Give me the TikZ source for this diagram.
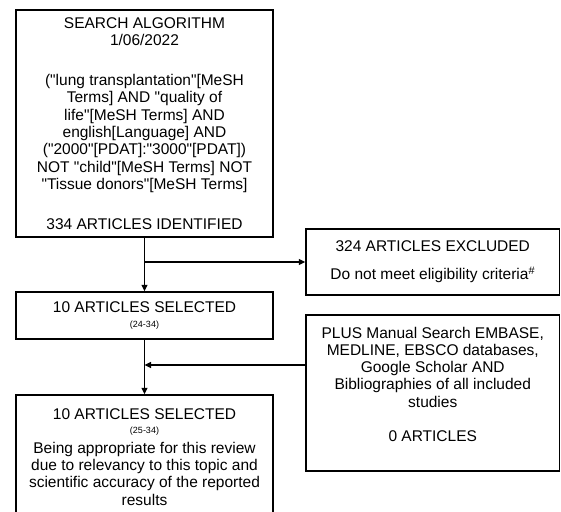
\documentclass[tikz,border=0pt]{standalone}
\usepackage{fontspec}
\setmainfont{Liberation Sans}
\usetikzlibrary{arrows.meta}
\newcommand{\smallref}[1]{{\fontsize{9}{9}\selectfont #1}}
\newcommand{\dq}{\textquotedbl}
\begin{document}
\begin{tikzpicture}[x=1pt, y=-1pt, line cap=butt,
  every node/.style={font=\fontsize{15.5}{17.3}\selectfont, align=center},
  box/.style={draw, line width=1.4pt, inner sep=0pt},
  arr/.style={line width=1.1pt, -{Triangle[length=6.5pt,width=6pt]}}]
\useasboundingbox (0,0) rectangle (561,511);

% ---------- left column: search and selection ----------
\node[box, minimum width=257, minimum height=227] (search) at (144.5,123.5)
  {SEARCH ALGORITHM\\1/06/2022\\[22.7pt]
   (\dq lung transplantation\dq[MeSH\\Terms] AND \dq quality of\\life\dq[MeSH Terms] AND\\
   english[Language] AND\\(\dq 2000\dq[PDAT]:\dq 3000\dq[PDAT])\\NOT \dq child\dq[MeSH Terms] NOT\\
   \dq Tissue donors\dq[MeSH Terms]\\[22.7pt]334 ARTICLES IDENTIFIED};
\node[box, minimum width=257, minimum height=47] (sel1) at (144.5,315.5)
  {10 ARTICLES SELECTED\\[-3pt]\smallref{(24-34)}};
\node[box, minimum width=257, minimum height=124] (sel2) at (144.5,457)
  {10 ARTICLES SELECTED\\[-3pt]\smallref{(25-34)}\\[2pt]Being appropriate for this review\\
   due to relevancy to this topic and\\scientific accuracy of the reported\\results};

% ---------- right column: excluded and added ----------
\node[box, minimum width=253.5, minimum height=66] (excl) at (432.75,262)
  {324 ARTICLES EXCLUDED\\[11pt]Do not meet eligibility criteria\textsuperscript{\#}};
\node[box, minimum width=253.5, minimum height=156] (plus) at (432.75,393)
  {PLUS Manual Search EMBASE,\\MEDLINE, EBSCO databases,\\Google Scholar AND\\
   Bibliographies of all included\\studies\\[17.3pt]0 ARTICLES\\\mbox{}};

% ---------- connectors ----------
\draw[arr] (search) -- (sel1);
\coordinate (split) at (search.south |- excl.west);
\draw[arr] (split) -- (excl);
\draw[arr] (sel1) -- (sel2);
\coordinate (feed) at (plus.west |- 0,365);
\coordinate (merge) at (sel1.south |- feed);
\draw[arr] (feed) -- (merge);
\end{tikzpicture}
\end{document}
